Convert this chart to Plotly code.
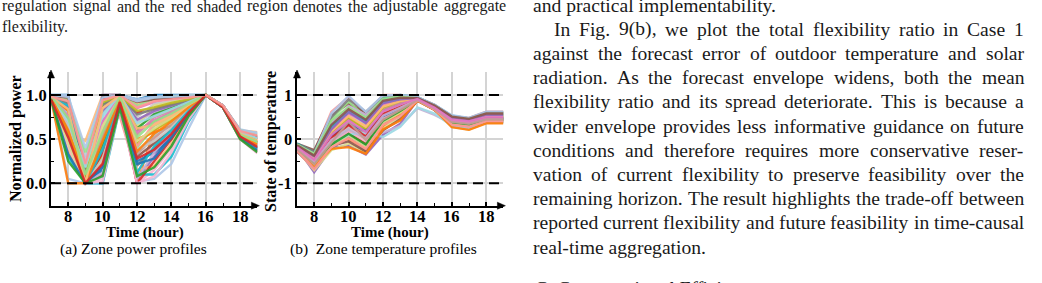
import plotly.graph_objects as go

W, H = 1042, 283

# ---------------- data ----------------
HOURS = list(range(7, 20))

POWER_PROFILES = [
    [1.00, 1.00, 0.00, 1.00, 1.00, 0.95, 1.00, 1.00, 1.00, 1.00, 0.88, 0.55, 0.45],
    [0.98, 0.05, 0.00, 0.00, 0.98, 0.02, 0.05, 0.22, 0.62, 1.00, 0.87, 0.52, 0.40],
    [0.96, 0.00, 0.00, 0.35, 0.95, 0.00, 0.60, 0.75, 0.85, 1.00, 0.86, 0.50, 0.38],
    [0.97, 0.60, 0.48, 1.00, 1.00, 0.90, 0.95, 0.97, 0.99, 1.00, 0.88, 0.60, 0.58],
    [0.95, 0.75, 0.00, 0.90, 1.00, 0.60, 0.70, 0.80, 0.90, 1.00, 0.87, 0.55, 0.47],
    [0.99, 0.35, 0.00, 0.80, 0.98, 0.40, 0.65, 0.75, 0.88, 1.00, 0.86, 0.53, 0.42],
    [0.97, 0.90, 0.10, 0.95, 0.97, 0.80, 0.85, 0.90, 0.95, 1.00, 0.88, 0.57, 0.50],
    [0.98, 0.85, 0.05, 0.60, 0.76, 0.10, 0.50, 0.70, 0.85, 1.00, 0.87, 0.54, 0.44],
    [0.96, 0.50, 0.00, 0.20, 0.95, 0.05, 0.30, 0.55, 0.80, 1.00, 0.86, 0.51, 0.40],
    [0.99, 0.65, 0.20, 0.70, 0.99, 0.70, 0.80, 0.87, 0.93, 1.00, 0.87, 0.56, 0.48],
    [0.95, 0.45, 0.00, 0.10, 0.90, 0.30, 0.45, 0.60, 0.80, 1.00, 0.86, 0.52, 0.36],
    [0.98, 0.80, 0.00, 0.50, 0.96, 0.55, 0.75, 0.82, 0.90, 1.00, 0.88, 0.58, 0.52],
    [1.00, 0.95, 0.15, 1.00, 1.00, 0.85, 0.92, 0.96, 0.98, 1.00, 0.88, 0.60, 0.55],
    [0.97, 0.40, 0.00, 0.05, 0.88, 0.00, 0.15, 0.40, 0.75, 1.00, 0.86, 0.50, 0.34],
    [0.96, 0.70, 0.00, 0.40, 0.97, 0.20, 0.40, 0.62, 0.82, 1.00, 0.87, 0.53, 0.43],
    [0.99, 0.88, 0.30, 0.85, 0.99, 0.75, 0.90, 0.93, 0.96, 1.00, 0.88, 0.59, 0.54],
    [0.95, 0.55, 0.00, 0.30, 0.92, 0.45, 0.60, 0.72, 0.86, 1.00, 0.87, 0.54, 0.46],
    [0.98, 0.92, 0.05, 0.65, 1.00, 0.65, 0.88, 0.92, 0.95, 1.00, 0.88, 0.57, 0.49],
    [0.97, 0.30, 0.00, 0.00, 0.85, 0.10, 0.10, 0.30, 0.70, 1.00, 0.86, 0.51, 0.39],
    [0.99, 0.78, 0.10, 0.75, 0.98, 0.35, 0.55, 0.68, 0.84, 1.00, 0.87, 0.55, 0.45],
    [0.96, 0.62, 0.00, 0.15, 0.93, 0.25, 0.35, 0.50, 0.78, 1.00, 0.86, 0.52, 0.41],
    [1.00, 1.00, 0.25, 1.00, 1.00, 0.95, 0.98, 0.99, 1.00, 1.00, 0.88, 0.61, 0.57],
    [0.98, 0.82, 0.00, 0.55, 0.99, 0.50, 0.58, 0.65, 0.83, 1.00, 0.87, 0.56, 0.47],
    [0.95, 0.38, 0.00, 0.25, 0.94, 0.15, 0.20, 0.45, 0.77, 1.00, 0.86, 0.50, 0.37],
    [0.97, 0.72, 0.05, 0.45, 0.97, 0.62, 0.78, 0.85, 0.92, 1.00, 0.87, 0.55, 0.46],
    [0.99, 0.95, 0.35, 0.92, 1.00, 0.88, 0.96, 0.98, 0.99, 1.00, 0.88, 0.60, 0.56],
    [0.96, 0.58, 0.00, 0.35, 0.91, 0.00, 0.25, 0.50, 0.79, 1.00, 0.86, 0.52, 0.40],
    [0.98, 0.68, 0.00, 0.60, 0.96, 0.42, 0.68, 0.78, 0.88, 1.00, 0.87, 0.54, 0.44],
    [0.97, 0.86, 0.20, 0.82, 0.99, 0.72, 0.82, 0.88, 0.94, 1.00, 0.88, 0.58, 0.51],
    [0.95, 0.48, 0.00, 0.12, 0.89, 0.05, 0.35, 0.58, 0.81, 1.00, 0.86, 0.51, 0.38],
    [0.99, 0.97, 0.05, 0.98, 1.00, 0.92, 0.95, 0.96, 0.98, 1.00, 0.88, 0.59, 0.53],
    [0.96, 0.52, 0.00, 0.55, 0.95, 0.33, 0.52, 0.66, 0.84, 1.00, 0.87, 0.53, 0.42],
    [0.98, 0.76, 0.00, 0.70, 0.98, 0.58, 0.72, 0.80, 0.90, 1.00, 0.87, 0.56, 0.48],
    [0.97, 0.42, 0.00, 0.02, 0.87, 0.00, 0.08, 0.35, 0.72, 1.00, 0.86, 0.50, 0.35],
    [1.00, 0.90, 0.12, 0.88, 1.00, 0.78, 0.84, 0.89, 0.94, 1.00, 0.88, 0.58, 0.52],
    [0.95, 0.64, 0.00, 0.28, 0.94, 0.38, 0.48, 0.63, 0.83, 1.00, 0.87, 0.54, 0.43],
    [0.97, 0.58, 0.08, 0.92, 0.99, 0.82, 0.86, 0.91, 0.95, 1.00, 0.87, 0.57, 0.50],
    [0.99, 0.45, 0.00, 0.65, 0.97, 0.48, 0.62, 0.74, 0.87, 1.00, 0.87, 0.55, 0.45],
    [0.96, 0.88, 0.00, 0.38, 0.93, 0.12, 0.42, 0.60, 0.82, 1.00, 0.86, 0.52, 0.39],
    [0.98, 0.70, 0.18, 0.78, 1.00, 0.68, 0.76, 0.84, 0.92, 1.00, 0.88, 0.58, 0.51],
    [0.95, 0.33, 0.00, 0.18, 0.90, 0.22, 0.28, 0.52, 0.79, 1.00, 0.86, 0.51, 0.37],
    [1.00, 0.98, 0.40, 0.97, 1.00, 0.93, 0.97, 0.98, 0.99, 1.00, 0.88, 0.60, 0.57],
    [0.97, 0.60, 0.00, 0.48, 0.95, 0.36, 0.56, 0.70, 0.86, 1.00, 0.87, 0.54, 0.44],
    [0.98, 0.84, 0.00, 0.85, 0.99, 0.62, 0.66, 0.76, 0.89, 1.00, 0.87, 0.56, 0.48],
    [0.96, 0.25, 0.00, 0.08, 0.86, 0.08, 0.18, 0.42, 0.76, 1.00, 0.86, 0.50, 0.35],
    [0.99, 0.74, 0.10, 0.58, 0.98, 0.52, 0.70, 0.79, 0.90, 1.00, 0.87, 0.55, 0.47],
    [0.95, 0.52, 0.00, 0.22, 0.92, 0.28, 0.38, 0.56, 0.80, 1.00, 0.86, 0.53, 0.41],
    [0.98, 0.93, 0.22, 0.94, 1.00, 0.86, 0.93, 0.95, 0.97, 1.00, 0.88, 0.59, 0.54],
]

TEMP_PROFILES = [
    [-0.15, -0.30, 0.62, 0.95, 0.55, 1.00, 1.00, 0.95, 0.78, 0.52, 0.48, 0.62, 0.62],
    [-0.20, -0.75, -0.20, -0.15, -0.35, 0.10, 0.35, 0.88, 0.70, 0.40, 0.35, 0.45, 0.45],
    [-0.25, -0.55, -0.10, 0.50, 0.20, 0.15, 0.30, 0.70, 0.55, 0.35, 0.30, 0.38, 0.38],
    [-0.10, -0.25, 0.55, 0.80, 0.60, 0.95, 0.97, 0.92, 0.75, 0.50, 0.45, 0.58, 0.58],
    [-0.18, -0.45, 0.20, 0.45, 0.25, 0.75, 0.85, 0.92, 0.72, 0.48, 0.42, 0.50, 0.50],
    [-0.22, -0.60, 0.00, 0.30, 0.05, 0.55, 0.70, 0.90, 0.70, 0.42, 0.38, 0.45, 0.45],
    [-0.12, -0.35, 0.40, 0.70, 0.45, 0.90, 0.95, 0.93, 0.74, 0.45, 0.40, 0.52, 0.52],
    [-0.28, -0.65, -0.20, 0.05, -0.25, 0.35, 0.55, 0.88, 0.68, 0.30, 0.25, 0.40, 0.40],
    [-0.15, -0.40, 0.10, 0.55, 0.35, 0.80, 0.90, 0.92, 0.73, 0.47, 0.43, 0.55, 0.55],
    [-0.20, -0.50, -0.05, 0.20, 0.00, 0.50, 0.75, 0.90, 0.70, 0.40, 0.36, 0.48, 0.48],
    [-0.25, -0.70, -0.25, -0.10, -0.30, 0.25, 0.50, 0.87, 0.66, 0.28, 0.22, 0.37, 0.37],
    [-0.10, -0.30, 0.30, 0.60, 0.40, 0.92, 1.00, 0.95, 0.77, 0.53, 0.47, 0.60, 0.60],
    [-0.18, -0.48, 0.05, 0.40, 0.10, 0.60, 0.78, 0.91, 0.71, 0.44, 0.40, 0.50, 0.50],
    [-0.22, -0.58, -0.15, 0.10, -0.15, 0.40, 0.62, 0.89, 0.69, 0.38, 0.33, 0.44, 0.44],
    [-0.14, -0.38, 0.25, 0.65, 0.30, 0.85, 0.93, 0.93, 0.75, 0.50, 0.45, 0.56, 0.56],
    [-0.26, -0.62, -0.05, 0.00, -0.20, 0.30, 0.58, 0.88, 0.67, 0.35, 0.30, 0.42, 0.42],
    [-0.16, -0.42, 0.15, 0.50, 0.30, 0.70, 0.82, 0.92, 0.72, 0.46, 0.41, 0.52, 0.52],
    [-0.20, -0.52, 0.00, 0.35, 0.15, 0.65, 0.80, 0.90, 0.71, 0.43, 0.39, 0.49, 0.49],
    [-0.12, -0.32, 0.45, 0.85, 0.50, 0.97, 0.98, 0.94, 0.76, 0.51, 0.46, 0.59, 0.59],
    [-0.24, -0.57, -0.10, 0.15, -0.10, 0.45, 0.65, 0.89, 0.68, 0.37, 0.32, 0.43, 0.43],
    [-0.17, -0.46, 0.10, 0.25, 0.20, 0.55, 0.72, 0.91, 0.70, 0.45, 0.41, 0.47, 0.47],
    [-0.21, -0.54, -0.05, 0.45, 0.05, 0.62, 0.76, 0.90, 0.71, 0.41, 0.37, 0.46, 0.46],
    [-0.13, -0.36, 0.35, 0.75, 0.55, 0.88, 0.94, 0.93, 0.76, 0.49, 0.44, 0.57, 0.57],
    [-0.27, -0.66, -0.15, -0.05, -0.28, 0.20, 0.45, 0.87, 0.66, 0.32, 0.27, 0.39, 0.39],
    [-0.19, -0.50, 0.05, 0.38, 0.12, 0.68, 0.84, 0.91, 0.72, 0.44, 0.40, 0.51, 0.51],
    [-0.15, -0.40, 0.20, 0.58, 0.38, 0.78, 0.88, 0.92, 0.74, 0.47, 0.43, 0.54, 0.54],
    [-0.23, -0.56, -0.08, 0.18, -0.05, 0.48, 0.68, 0.89, 0.69, 0.39, 0.34, 0.45, 0.45],
    [-0.11, -0.28, 0.50, 0.90, 0.62, 0.98, 0.99, 0.94, 0.77, 0.52, 0.47, 0.61, 0.61],
    [-0.20, -0.55, 0.00, 0.28, 0.08, 0.58, 0.74, 0.90, 0.70, 0.42, 0.38, 0.47, 0.47],
    [-0.16, -0.44, 0.12, 0.48, 0.22, 0.72, 0.86, 0.92, 0.73, 0.46, 0.42, 0.53, 0.53],
    [-0.24, -0.60, -0.18, 0.08, -0.18, 0.38, 0.60, 0.88, 0.68, 0.36, 0.31, 0.42, 0.42],
    [-0.14, -0.42, 0.28, 0.62, 0.42, 0.83, 0.91, 0.93, 0.75, 0.49, 0.44, 0.55, 0.55],
    [-0.25, -0.45, -0.10, 0.10, 0.15, 0.05, 0.28, 0.72, 0.58, 0.30, 0.26, 0.38, 0.38],
    [-0.18, -0.48, 0.08, 0.35, 0.18, 0.52, 0.70, 0.90, 0.70, 0.43, 0.39, 0.48, 0.48],
    [-0.13, -0.34, 0.58, 0.98, 0.62, 0.99, 1.00, 0.95, 0.78, 0.54, 0.48, 0.62, 0.62],
    [-0.21, -0.60, -0.22, -0.18, -0.33, 0.22, 0.42, 0.87, 0.67, 0.27, 0.21, 0.36, 0.36],
    [-0.17, -0.44, 0.18, 0.52, 0.28, 0.74, 0.86, 0.92, 0.73, 0.47, 0.42, 0.53, 0.53],
    [-0.23, -0.53, -0.12, 0.12, -0.12, 0.42, 0.64, 0.89, 0.69, 0.38, 0.33, 0.44, 0.44],
    [-0.12, -0.33, 0.42, 0.72, 0.48, 0.91, 0.96, 0.93, 0.75, 0.50, 0.45, 0.57, 0.57],
    [-0.19, -0.49, 0.03, 0.32, 0.06, 0.57, 0.73, 0.90, 0.70, 0.42, 0.38, 0.47, 0.47],
    [-0.26, -0.68, -0.18, 0.02, -0.22, 0.32, 0.52, 0.88, 0.67, 0.33, 0.28, 0.41, 0.41],
    [-0.15, -0.39, 0.22, 0.62, 0.36, 0.82, 0.90, 0.93, 0.74, 0.48, 0.43, 0.55, 0.55],
    [-0.20, -0.51, -0.02, 0.22, 0.02, 0.53, 0.71, 0.90, 0.70, 0.41, 0.37, 0.46, 0.46],
    [-0.14, -0.37, 0.32, 0.68, 0.44, 0.87, 0.94, 0.93, 0.76, 0.51, 0.46, 0.58, 0.58],
    [-0.22, -0.57, -0.08, 0.40, -0.02, 0.44, 0.66, 0.89, 0.69, 0.39, 0.35, 0.45, 0.45],
    [-0.18, -0.47, 0.10, 0.42, 0.16, 0.63, 0.79, 0.91, 0.71, 0.44, 0.40, 0.50, 0.50],
]

X_TICKS = [8, 10, 12, 14, 16, 18]
A_TICKVALS = [0.0, 0.5, 1.0]
A_TICKTEXT = ["0.0", "0.5", "1.0"]
B_TICKVALS = [-1, 0, 1]
B_TICKTEXT = ["-1", "0", "1"]
A_BOUNDS = [0.0, 1.0]
B_BOUNDS = [-1.0, 1.0]

# surrounding page text
LEFT_TOP_LINES = [
    ("regulation signal and the red shaded region denotes the adjustable aggregate", True),
    ("flexibility.", False),
]
RIGHT_LINES = [
    ("and practical implementability.", False, False),
    ("In Fig. 9(b), we plot the total flexibility ratio in Case 1", True, True),
    ("against the forecast error of outdoor temperature and solar", True, False),
    ("radiation. As the forecast envelope widens, both the mean", True, False),
    ("flexibility ratio and its spread deteriorate. This is because a", True, False),
    ("wider envelope provides less informative guidance on future", True, False),
    ("conditions and therefore requires more conservative reser-", True, False),
    ("vation of current flexibility to preserve feasibility over the", True, False),
    ("remaining horizon. The result highlights the trade-off between", True, False),
    ("reported current flexibility and future feasibility in time-causal", True, False),
    ("real-time aggregation.", False, False),
]
HEADING = "C. Computational Efficiency"
CAPTION_A = "(a) Zone power profiles"
CAPTION_B = "(b)  Zone temperature profiles"
XTITLE = "Time (hour)"
YTITLE_A = "Normalized power"
YTITLE_B = "State of temperature"

COLORS = ['#1f77b4', '#aec7e8', '#ff7f0e', '#ffbb78', '#2ca02c', '#98df8a',
          '#d62728', '#ff9896', '#9467bd', '#c5b0d5', '#8c564b', '#c49c94',
          '#e377c2', '#f7b6d2', '#7f7f7f', '#c7c7c7', '#bcbd22', '#dbdb8d',
          '#17becf', '#9edae5']

SERIF = "Liberation Serif, Times New Roman, serif"


def px(x):
    return x / W


def py(y):
    return 1 - y / H


# plot-area geometry (pixels)
Y_TOP, Y_BOT = 72.0, 205.7
A_X0, A_X1 = 51.0, 257.4
B_X0, B_X1 = 297.0, 503.4
A_RANGE = [(183.3 - Y_BOT) / 88.3, (183.3 - Y_TOP) / 88.3]
B_RANGE = [(139.15 - Y_BOT) / 44.15, (139.15 - Y_TOP) / 44.15]

fig = go.Figure()

for i, prof in enumerate(POWER_PROFILES):
    fig.add_trace(go.Scatter(x=HOURS, y=prof, mode="lines", xaxis="x", yaxis="y",
                             line=dict(color=COLORS[i % len(COLORS)], width=2.4),
                             opacity=0.9, showlegend=False, hoverinfo="skip"))
for i, prof in enumerate(TEMP_PROFILES):
    fig.add_trace(go.Scatter(x=HOURS, y=prof, mode="lines", xaxis="x2", yaxis="y2",
                             line=dict(color=COLORS[(i + 7) % len(COLORS)], width=2.4),
                             opacity=0.9, showlegend=False, hoverinfo="skip"))

common_x = dict(range=[7, 19], tickvals=X_TICKS, showline=True, linecolor="black",
                linewidth=1.6, ticks="inside", ticklen=4, tickwidth=1.5, tickcolor="black",
                showgrid=True, gridcolor="#d4d4d4", gridwidth=1.5, zeroline=False,
                showticklabels=False,
                minor=dict(dtick=1, ticks="inside", ticklen=3, tickwidth=1.2,
                           tickcolor="black", showgrid=False))
common_y = dict(showline=True, linecolor="black", linewidth=1.6, ticks="inside",
                ticklen=4, tickwidth=1.5, tickcolor="black", showgrid=True,
                gridcolor="#d4d4d4", gridwidth=1.5, zeroline=False, showticklabels=False)

fig.update_layout(
    width=W, height=H, margin=dict(l=0, r=0, t=0, b=0),
    paper_bgcolor="white", plot_bgcolor="white", showlegend=False,
    xaxis=dict(domain=[px(A_X0), px(A_X1)], anchor="y", **common_x),
    yaxis=dict(domain=[py(Y_BOT), py(Y_TOP)], anchor="x", range=A_RANGE,
               tickvals=A_TICKVALS,
               minor=dict(dtick=0.25, ticks="inside", ticklen=3, tickwidth=1.2,
                          tickcolor="black", showgrid=False), **common_y),
    xaxis2=dict(domain=[px(B_X0), px(B_X1)], anchor="y2", **common_x),
    yaxis2=dict(domain=[py(Y_BOT), py(Y_TOP)], anchor="x2", range=B_RANGE,
                tickvals=B_TICKVALS,
                minor=dict(dtick=0.5, ticks="inside", ticklen=3, tickwidth=1.2,
                           tickcolor="black", showgrid=False), **common_y),
)

# dashed bounds
shapes = []
for v in A_BOUNDS:
    shapes.append(dict(type="line", xref="x domain", yref="y", x0=0, x1=1, y0=v, y1=v,
                       line=dict(color="black", width=2, dash="10px,6px")))
for v in B_BOUNDS:
    shapes.append(dict(type="line", xref="x2 domain", yref="y2", x0=0, x1=1, y0=v, y1=v,
                       line=dict(color="black", width=2, dash="10px,6px")))


def tri(points):
    p = "M " + " L ".join(f"{px(x):.5f},{py(y):.5f}" for x, y in points) + " Z"
    return dict(type="path", xref="paper", yref="paper", path=p,
                fillcolor="black", line=dict(color="black", width=0.5))


for x0, x1 in [(A_X0, A_X1), (B_X0, B_X1)]:
    shapes.append(tri([(x0 - 3.5, Y_TOP + 6), (x0 + 3.5, Y_TOP + 6), (x0, Y_TOP - 2)]))
    shapes.append(tri([(x1 - 6, Y_BOT - 3.5), (x1 - 6, Y_BOT + 3.5), (x1 + 2, Y_BOT)]))
fig.update_layout(shapes=shapes)

annotations = []


def add_text(text, x, y, size, xanchor="left", bold=False, italic=False, rot=0,
             color="#1a1a1a", xref="paper", yref="paper"):
    xx = px(x) if xref == "paper" else x
    yy = py(y) if yref == "paper" else y
    annotations.append(dict(
        text=text, x=xx, y=yy, xref=xref, yref=yref, showarrow=False,
        xanchor=xanchor, yanchor="middle", textangle=rot, borderpad=0,
        font=dict(family=SERIF, size=size, color=color,
                  weight="bold" if bold else "normal",
                  style="italic" if italic else "normal")))


# tick labels, placed through the axes' own scales
TICK_SIZE = 16.5
for xa in ["x", "x2"]:
    for t in X_TICKS:
        add_text(str(t), t, 216.5, TICK_SIZE, xanchor="center", bold=True, color="black",
                 xref=xa)
for v, t in zip(A_TICKVALS, A_TICKTEXT):
    add_text(t, A_X0 - 3, v, TICK_SIZE, xanchor="right", bold=True, color="black", yref="y")
for v, t in zip(B_TICKVALS, B_TICKTEXT):
    add_text(t, B_X0 - 4, v, TICK_SIZE, xanchor="right", bold=True, color="black",
             yref="y2")

# axis titles and captions
add_text(YTITLE_A, 16, 139, 16, xanchor="center", bold=True, rot=-90, color="black")
add_text(YTITLE_B, 271, 142, 16, xanchor="center", bold=True, rot=-90, color="black")
add_text(XTITLE, 144.5, 232.5, 15, xanchor="center", bold=True, color="black")
add_text(XTITLE, 390, 232.5, 15, xanchor="center", bold=True, color="black")
add_text(CAPTION_A, 133, 249, 15.5, xanchor="center", color="black")
add_text(CAPTION_B, 383, 249, 15.5, xanchor="center", color="black")

# Times-Roman advance widths (1/1000 em)
TW = {' ': 250, '(': 333, ')': 333, ',': 250, '-': 333, '.': 250, ':': 278, ';': 278,
      '0': 500, '1': 500, '2': 500, '3': 500, '4': 500, '5': 500, '6': 500, '7': 500,
      '8': 500, '9': 500,
      'A': 722, 'B': 667, 'C': 667, 'D': 722, 'E': 611, 'F': 556, 'G': 722, 'H': 722,
      'I': 333, 'J': 389, 'K': 722, 'L': 611, 'M': 889, 'N': 722, 'O': 722, 'P': 556,
      'Q': 722, 'R': 667, 'S': 556, 'T': 611, 'U': 722, 'V': 722, 'W': 944, 'X': 722,
      'Y': 722, 'Z': 611,
      'a': 444, 'b': 500, 'c': 444, 'd': 500, 'e': 444, 'f': 333, 'g': 500, 'h': 500,
      'i': 278, 'j': 278, 'k': 500, 'l': 278, 'm': 778, 'n': 500, 'o': 500, 'p': 500,
      'q': 500, 'r': 333, 's': 389, 't': 278, 'u': 500, 'v': 500, 'w': 722, 'x': 500,
      'y': 500, 'z': 444}


def width(s, size):
    return sum(TW.get(c, 500) for c in s) / 1000.0 * size


def add_line(text, left, right, y, size, justify):
    if not justify:
        add_text(text, left, y, size)
        return
    words = text.split(" ")
    ws = [width(w, size) for w in words]
    gap = (right - left - sum(ws)) / (len(words) - 1)
    x = left
    for w, wd in zip(words, ws):
        add_text(w, x, y, size)
        x += wd + gap


# left column (end of previous caption)
for k, (t, j) in enumerate(LEFT_TOP_LINES):
    add_line(t, 1, 505, 6 + 21 * k, 16, j)

# right column body
BODY = 19.6
for k, (t, j, indent) in enumerate(RIGHT_LINES):
    add_line(t, 553 if indent else 532, 1023, 5 + 24.2 * k, BODY, j)

add_text(HEADING, 532, 288.5, BODY, italic=True)

fig.update_layout(annotations=annotations)
fig.write_html("out.html")
